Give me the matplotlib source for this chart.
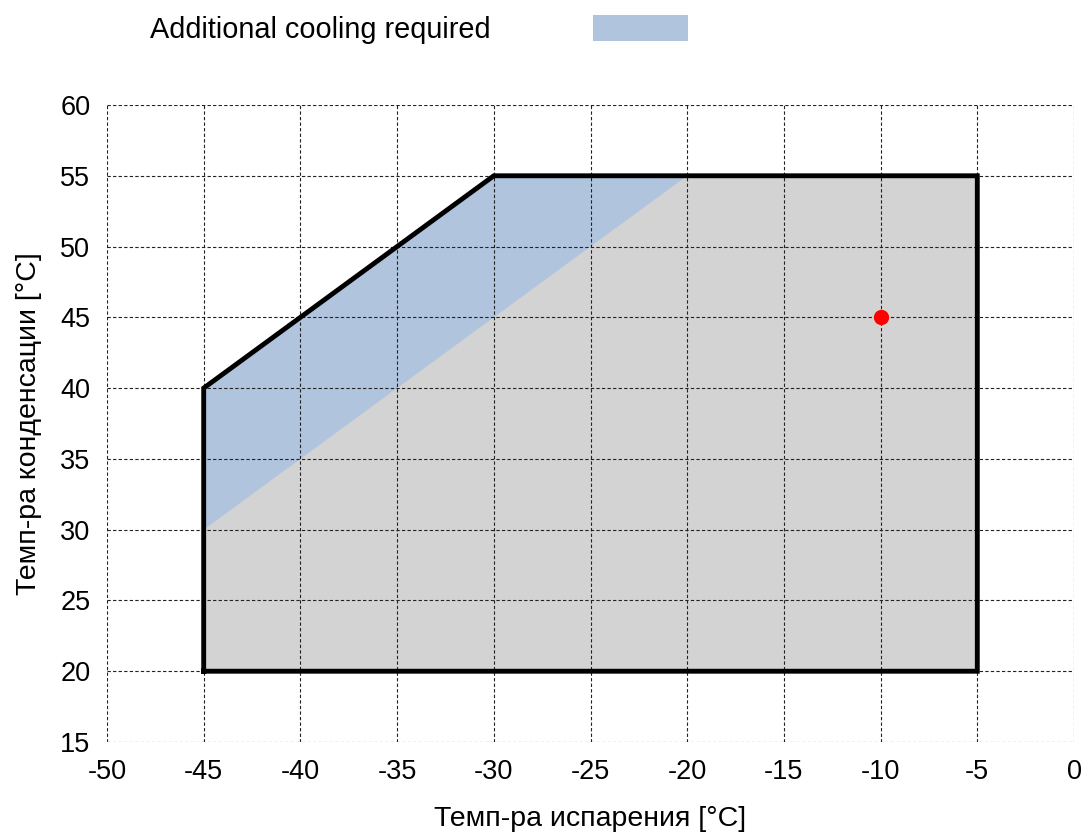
import matplotlib
matplotlib.use("Agg")
import matplotlib.pyplot as plt
from matplotlib.patches import Rectangle

plt.rcParams['font.family'] = ['Liberation Sans', 'DejaVu Sans']
plt.rcParams['axes.unicode_minus'] = False

# operating envelope (evap temp, cond temp)
envelope_x = [-45, -45, -30, -5, -5, -45]
envelope_y = [20, 40, 55, 55, 20, 20]

# area where additional cooling is required
cooling_x = [-45, -45, -30, -20, -45]
cooling_y = [30, 40, 55, 55, 30]

point_x = [-10]
point_y = [45]

xticks = list(range(-50, 1, 5))
yticks = list(range(15, 61, 5))

fig = plt.figure(figsize=(10.81, 8.33), dpi=100)
ax = fig.add_axes([107/1081, 1-742/833, (1074-107)/1081, (742-105)/833])

ax.fill(envelope_x, envelope_y, color='#D3D3D3', zorder=1, lw=0)
ax.fill(cooling_x, cooling_y, color='#B0C4DE', zorder=1.5, lw=0)
ax.plot(envelope_x, envelope_y, color='black', lw=3.5, zorder=3,
        solid_joinstyle='miter')
ax.plot(point_x, point_y, 'o', color='red', ms=10, zorder=4)

ax.set_xlim(-50, 0)
ax.set_ylim(15, 60)
ax.set_xticks(xticks)
ax.set_yticks(yticks)
ax.set_axisbelow(False)
ax.grid(True, color='#222222', linestyle=(0, (3, 2)), lw=0.8, zorder=2)
for s in ax.spines.values():
    s.set_visible(False)
ax.tick_params(length=0, labelsize=19.5)
ax.tick_params(axis='x', pad=12)
ax.tick_params(axis='y', pad=12)

ax.set_xlabel('Темп-ра испарения [°C]', fontsize=20.5, labelpad=15)
ax.set_ylabel('Темп-ра конденсации [°C]', fontsize=20.5, labelpad=13)

fig.text(150/1081, 1-30/833, 'Additional cooling required', fontsize=20.8,
         va='center', ha='left')
fig.add_artist(Rectangle((593/1081, 1-41/833), 95/1081, 26/833,
                         transform=fig.transFigure, color='#B0C4DE', lw=0))

fig.savefig('out.png', dpi=100)
